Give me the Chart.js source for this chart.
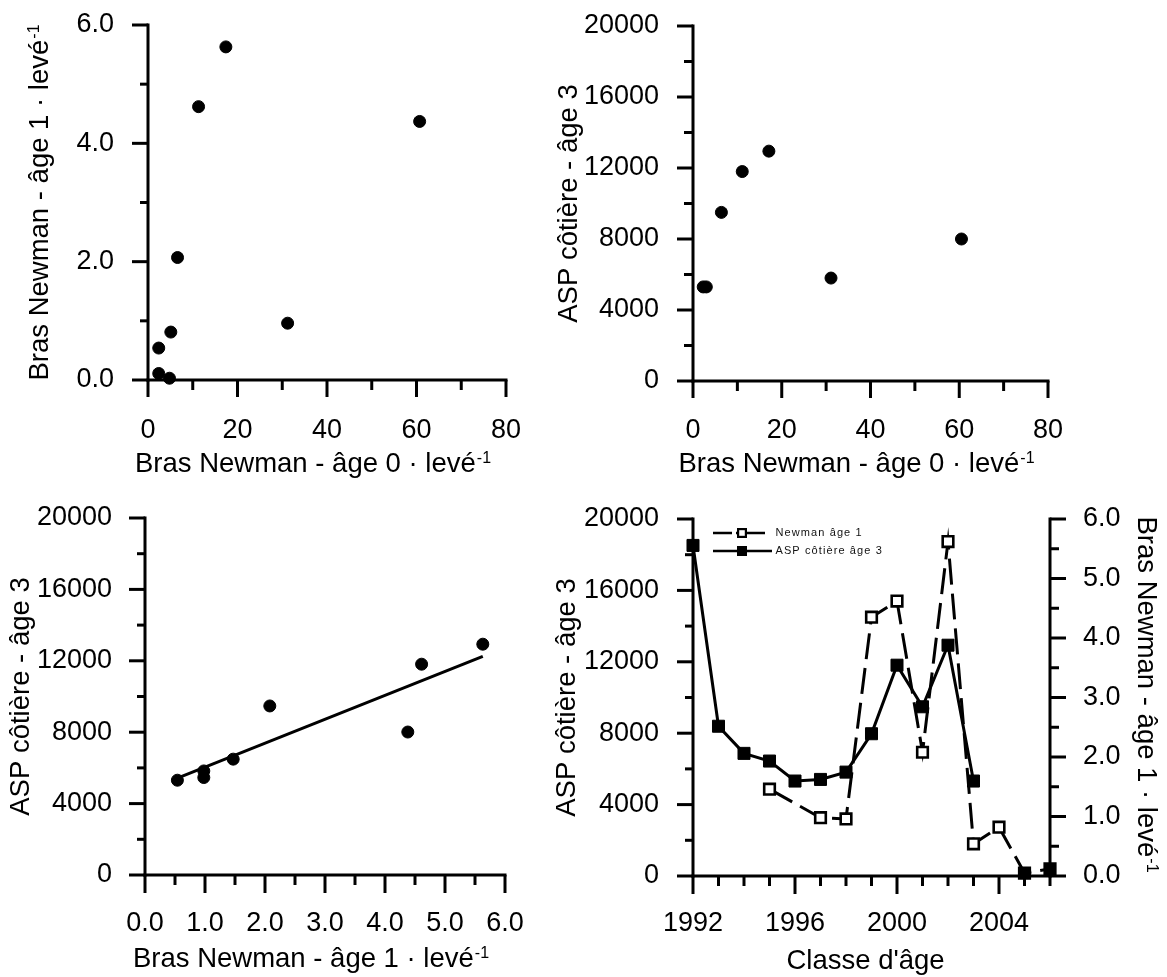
<!DOCTYPE html>
<html>
<head>
<meta charset="utf-8">
<script src="https://cdn.jsdelivr.net/npm/chart.js@4.4.1/dist/chart.umd.min.js"></script>
<style>
html,body{margin:0;padding:0;background:#fff;}
body{width:1167px;height:977px;position:relative;overflow:hidden;}
.p{position:absolute;}
</style>
</head>
<body>
<div class="p" style="left:0px;top:0px;width:560px;height:490px"><canvas id="c1"></canvas></div>
<div class="p" style="left:548px;top:0px;width:619px;height:490px"><canvas id="c2"></canvas></div>
<div class="p" style="left:0px;top:490px;width:560px;height:487px"><canvas id="c3"></canvas></div>
<div class="p" style="left:548px;top:490px;width:619px;height:487px"><canvas id="c4"></canvas></div>
<script>
// ---------------- data ----------------
// Panel 1: Bras Newman age 0 vs age 1
const p1Age0 = [2.4, 2.4, 4.8, 5.1, 6.6, 11.3, 17.4, 31.2, 60.7];
const p1Age1 = [0.54, 0.11, 0.03, 0.81, 2.07, 4.62, 5.63, 0.96, 4.37];
// Panel 2: Bras Newman age 0 vs ASP cotiere age 3
const p2Age0 = [2.3, 3.0, 6.4, 11.1, 17.1, 31.1, 60.5];
const p2Asp3 = [5300, 5300, 9500, 11800, 12950, 5800, 8000];
// Panel 3: Bras Newman age 1 vs ASP cotiere age 3
const p3Age1 = [0.54, 0.98, 0.98, 1.47, 2.08, 4.38, 4.61, 5.63];
const p3Asp3 = [5310, 5830, 5460, 6490, 9470, 8010, 11810, 12930];
// Panel 4: time series by year class
const years = [1992, 1993, 1994, 1995, 1996, 1997, 1998, 1999, 2000, 2001, 2002, 2003, 2004, 2005, 2006];
const asp3Series = [18520, 8390, 6870, 6440, 5320, 5410, 5820, 7970, 11810, 9480, 12930, 5320, null, null, null];
const newman1Series = [null, null, null, 1.46, null, 0.98, 0.96, 4.35, 4.62, 2.08, 5.62, 0.54, 0.82, 0.05, 0.12];
// tick settings
const age0Ticks = {min: 0, max: 80, major: 20, minor: 10};
const age1Ticks = {min: 0, max: 6, major: 2, minor: 1};
const age1TicksB = {min: 0, max: 6, major: 1, minor: 0.5};
const aspTicks = {min: 0, max: 20000, major: 4000, minor: 2000};
const yearTicks = {min: 1992, max: 2006, major: 4, minor: 1};
const legendLabels = ['Newman âge 1', 'ASP côtière âge 3'];
// axis titles [main text, superscript]
const tAge0 = ['Bras Newman - âge 0 · levé', '-1'];
const tAge1 = ['Bras Newman - âge 1 · levé', '-1'];
const tAsp = ['ASP côtière - âge 3', ''];
const tYear = ["Classe d'âge", ''];

// ---------------- helpers ----------------
const FONT = '"Liberation Sans", Arial, Helvetica, sans-serif';
Chart.defaults.font.family = FONT;
Chart.defaults.color = '#000';
const FS = 27;
const TFS = 27.5;
const SFS = 16;

function linFit(xs, ys) {
  const n = xs.length;
  const mx = xs.reduce((a, b) => a + b, 0) / n;
  const my = ys.reduce((a, b) => a + b, 0) / n;
  let sxy = 0, sxx = 0;
  for (let i = 0; i < n; i++) { sxy += (xs[i] - mx) * (ys[i] - my); sxx += (xs[i] - mx) * (xs[i] - mx); }
  const b = sxy / sxx;
  return {a: my - b * mx, b};
}
const pts = (xs, ys) => xs.map((x, i) => ({x, y: ys[i]}));

const sciAxes = {
  id: 'sciAxes',
  beforeDatasetsDraw(chart, args, opts) {
    const {ctx, chartArea: ca} = chart;
    ctx.save();
    ctx.strokeStyle = '#000';
    ctx.lineWidth = 3;
    (opts.axes || []).forEach(a => {
      const s = chart.scales[a.id];
      const n = Math.round((s.max - s.min) / a.minor);
      ctx.lineCap = 'butt';
      for (let i = 0; i <= n; i++) {
        const v = s.min + i * a.minor;
        const rel = (v - s.min) / a.major;
        const isMajor = Math.abs(rel - Math.round(rel)) < 1e-6;
        const len = isMajor ? a.majorLen : a.minorLen;
        const p = s.getPixelForValue(v);
        ctx.beginPath();
        if (s.isHorizontal()) { ctx.moveTo(p, ca.bottom); ctx.lineTo(p, ca.bottom + len); }
        else if (s.position === 'right') { ctx.moveTo(ca.right, p); ctx.lineTo(ca.right + len, p); }
        else { ctx.moveTo(ca.left - len, p); ctx.lineTo(ca.left, p); }
        ctx.stroke();
      }
      ctx.lineCap = 'square';
      ctx.beginPath();
      if (s.isHorizontal()) { ctx.moveTo(ca.left, ca.bottom); ctx.lineTo(ca.right, ca.bottom); }
      else if (s.position === 'right') { ctx.moveTo(ca.right, ca.top); ctx.lineTo(ca.right, ca.bottom); }
      else { ctx.moveTo(ca.left, ca.top); ctx.lineTo(ca.left, ca.bottom); }
      ctx.stroke();
    });
    ctx.restore();
  }
};

// axis titles with a real superscript
const axisTitles = {
  id: 'axisTitles',
  afterDraw(chart, args, opts) {
    const {ctx, chartArea: ca} = chart;
    ctx.save();
    ctx.fillStyle = '#000';
    ctx.textBaseline = 'alphabetic';
    ctx.textAlign = 'left';
    (opts.items || []).forEach(it => {
      const [main, sup] = it.text;
      ctx.font = TFS + 'px ' + FONT;
      const wm = ctx.measureText(main).width;
      ctx.font = SFS + 'px ' + FONT;
      const ws = sup ? ctx.measureText(sup).width + 1 : 0;
      const total = wm + ws;
      let x, y, rot;
      if (it.side === 'bottom') { x = (ca.left + ca.right) / 2 + (it.shift || 0); y = ca.bottom + it.off; rot = 0; }
      else if (it.side === 'left') { x = ca.left - it.off; y = (ca.top + ca.bottom) / 2 + (it.shift || 0); rot = -Math.PI / 2; }
      else { x = ca.right + it.off; y = (ca.top + ca.bottom) / 2 + (it.shift || 0); rot = Math.PI / 2; }
      ctx.save();
      ctx.translate(x, y);
      ctx.rotate(rot);
      ctx.font = TFS + 'px ' + FONT;
      ctx.fillText(main, -total / 2, 0);
      if (sup) {
        ctx.font = SFS + 'px ' + FONT;
        ctx.fillText(sup, -total / 2 + wm + 1, -9);
      }
      ctx.restore();
    });
    ctx.restore();
  }
};

const insetLegend = {
  id: 'insetLegend',
  afterDatasetsDraw(chart, args, opts) {
    if (!opts.items) return;
    const {ctx, chartArea: ca} = chart;
    ctx.save();
    opts.items.forEach((it, i) => {
      const ds = chart.data.datasets[it.dataset];
      const y = ca.top + opts.top + i * opts.rowGap;
      const x0 = ca.left + opts.left;
      ctx.strokeStyle = '#000';
      ctx.lineWidth = 2.7;
      ctx.lineCap = 'butt';
      ctx.setLineDash(it.dash || []);
      ctx.beginPath(); ctx.moveTo(x0, y); ctx.lineTo(x0 + it.lineLen, y); ctx.stroke();
      ctx.setLineDash([]);
      const sz = opts.box, cx = x0 + opts.boxAt;
      if (it.filled) {
        ctx.fillStyle = '#000';
        ctx.fillRect(cx - sz / 2, y - sz / 2, sz, sz);
      } else {
        ctx.fillStyle = '#fff';
        ctx.fillRect(cx - sz / 2, y - sz / 2, sz, sz);
        ctx.lineWidth = 2.2;
        ctx.strokeRect(cx - sz / 2 + 1.1, y - sz / 2 + 1.1, sz - 2.2, sz - 2.2);
      }
      ctx.font = '11px ' + FONT;
      try { ctx.letterSpacing = '1.1px'; } catch (e) {}
      ctx.fillStyle = '#111';
      ctx.textBaseline = 'middle';
      ctx.textAlign = 'left';
      ctx.fillText(ds.label, x0 + opts.textAt, y);
    });
    ctx.restore();
  }
};

function numScale(t, o) {
  return {
    type: 'linear',
    position: o.position,
    min: t.min, max: t.max,
    ticks: {stepSize: t.major, padding: o.pad, font: {size: FS}, color: '#000',
            callback: o.fmt, autoSkip: false, includeBounds: false, maxRotation: 0},
    grid: {display: false, drawTicks: false},
    border: {display: false},
    title: {display: false},
    afterFit(sc) {
      if (o.height !== undefined) sc.height = o.height;
      if (o.width !== undefined) sc.width = o.width;
      sc.paddingTop = 0; sc.paddingBottom = 0; sc.paddingLeft = 0; sc.paddingRight = 0;
    }
  };
}
const f0 = v => String(v);
const f1 = v => v.toFixed(1);
const dot = {pointRadius: 6, pointHoverRadius: 6, pointBackgroundColor: '#000', pointBorderColor: '#000', pointBorderWidth: 1, clip: false};
const baseOpts = {responsive: true, maintainAspectRatio: false, animation: false, devicePixelRatio: 1, events: []};
const hidePlugins = {legend: {display: false}, tooltip: {enabled: false}};

// ---------------- Panel 1 ----------------
new Chart(document.getElementById('c1'), {
  type: 'scatter',
  data: {datasets: [Object.assign({data: pts(p1Age0, p1Age1)}, dot)]},
  options: Object.assign({}, baseOpts, {
    layout: {padding: {left: 0, top: 25, right: 54, bottom: 0}},
    scales: {
      x: numScale(age0Ticks, {position: 'bottom', pad: 34.5, fmt: f0, height: 110}),
      y: numScale(age1Ticks, {position: 'left', pad: 34, fmt: f1, width: 148})
    },
    plugins: Object.assign({}, hidePlugins, {
      sciAxes: {axes: [
        {id: 'x', major: age0Ticks.major, minor: age0Ticks.minor, majorLen: 17, minorLen: 10},
        {id: 'y', major: age1Ticks.major, minor: age1Ticks.minor, majorLen: 16, minorLen: 8}]},
      axisTitles: {items: [
        {side: 'bottom', text: tAge0, off: 91.5, shift: -14},
        {side: 'left', text: tAge1, off: 100, shift: 0}]}
    })
  }),
  plugins: [sciAxes, axisTitles]
});

// ---------------- Panel 2 ----------------
new Chart(document.getElementById('c2'), {
  type: 'scatter',
  data: {datasets: [Object.assign({data: pts(p2Age0, p2Asp3)}, dot)]},
  options: Object.assign({}, baseOpts, {
    layout: {padding: {left: 0, top: 26, right: 119, bottom: 0}},
    scales: {
      x: numScale(age0Ticks, {position: 'bottom', pad: 33.5, fmt: f0, height: 109}),
      y: numScale(aspTicks, {position: 'left', pad: 34, fmt: f0, width: 145})
    },
    plugins: Object.assign({}, hidePlugins, {
      sciAxes: {axes: [
        {id: 'x', major: age0Ticks.major, minor: age0Ticks.minor, majorLen: 17, minorLen: 10},
        {id: 'y', major: aspTicks.major, minor: aspTicks.minor, majorLen: 16, minorLen: 9}]},
      axisTitles: {items: [
        {side: 'bottom', text: tAge0, off: 90.5, shift: -14},
        {side: 'left', text: tAsp, off: 116, shift: 0}]}
    })
  }),
  plugins: [sciAxes, axisTitles]
});

// ---------------- Panel 3 ----------------
const fit = linFit(p3Age1, p3Asp3);
const fx0 = Math.min(...p3Age1), fx1 = Math.max(...p3Age1);
new Chart(document.getElementById('c3'), {
  type: 'scatter',
  data: {datasets: [
    Object.assign({data: pts(p3Age1, p3Asp3)}, dot),
    {type: 'line', data: [{x: fx0, y: fit.a + fit.b * fx0}, {x: fx1, y: fit.a + fit.b * fx1}],
     showLine: true, borderColor: '#000', borderWidth: 3, pointRadius: 0, fill: false, clip: false}
  ]},
  options: Object.assign({}, baseOpts, {
    layout: {padding: {left: 0, top: 28, right: 55, bottom: 0}},
    scales: {
      x: numScale(age1TicksB, {position: 'bottom', pad: 32, fmt: f1, height: 102}),
      y: numScale(aspTicks, {position: 'left', pad: 33, fmt: f0, width: 145})
    },
    plugins: Object.assign({}, hidePlugins, {
      sciAxes: {axes: [
        {id: 'x', major: age1TicksB.major, minor: age1TicksB.minor, majorLen: 18, minorLen: 10},
        {id: 'y', major: aspTicks.major, minor: aspTicks.minor, majorLen: 16, minorLen: 8}]},
      axisTitles: {items: [
        {side: 'bottom', text: tAge1, off: 92, shift: -14},
        {side: 'left', text: tAsp, off: 116, shift: 0}]}
    })
  }),
  plugins: [sciAxes, axisTitles]
});

// ---------------- Panel 4 ----------------
new Chart(document.getElementById('c4'), {
  type: 'line',
  data: {datasets: [
    {label: legendLabels[1], data: pts(years, asp3Series), yAxisID: 'y',
     borderColor: '#000', borderWidth: 3, pointStyle: 'rect', pointRadius: 8.5,
     pointBackgroundColor: '#000', pointBorderColor: '#000', pointBorderWidth: 1,
     spanGaps: true, tension: 0, fill: false, clip: false},
    {label: legendLabels[0], data: pts(years, newman1Series), yAxisID: 'y2',
     borderColor: '#000', borderWidth: 3, borderDash: [26, 9], pointStyle: 'rect', pointRadius: 7.5,
     pointBackgroundColor: c => (c.raw && c.raw.y !== null && c.raw.y < 0.2) ? '#000' : '#fff',
     pointBorderColor: '#000', pointBorderWidth: 2.6,
     spanGaps: true, tension: 0, fill: false, clip: false}
  ]},
  options: Object.assign({}, baseOpts, {
    layout: {padding: {left: 0, top: 29, right: 0, bottom: 0}},
    scales: {
      x: numScale(yearTicks, {position: 'bottom', pad: 31, fmt: f0, height: 101}),
      y: numScale(aspTicks, {position: 'left', pad: 34, fmt: f0, width: 145}),
      y2: numScale(age1TicksB, {position: 'right', pad: 33, fmt: f1, width: 117})
    },
    plugins: Object.assign({}, hidePlugins, {
      sciAxes: {axes: [
        {id: 'x', major: yearTicks.major, minor: yearTicks.minor, majorLen: 18, minorLen: 10},
        {id: 'y', major: aspTicks.major, minor: aspTicks.minor, majorLen: 16, minorLen: 8},
        {id: 'y2', major: age1TicksB.major, minor: age1TicksB.minor, majorLen: 16, minorLen: 9}]},
      axisTitles: {items: [
        {side: 'bottom', text: tYear, off: 93, shift: -6},
        {side: 'left', text: tAsp, off: 118, shift: 0},
        {side: 'right', text: tAge1, off: 88, shift: -3}]},
      insetLegend: {left: 20, top: 14, rowGap: 18, box: 10, boxAt: 29, textAt: 62.5, items: [
        {dataset: 1, dash: [19, 4, 40], lineLen: 52, filled: false},
        {dataset: 0, dash: [], lineLen: 59, filled: true}]}
    })
  }),
  plugins: [sciAxes, axisTitles, insetLegend]
});
</script>
</body>
</html>
